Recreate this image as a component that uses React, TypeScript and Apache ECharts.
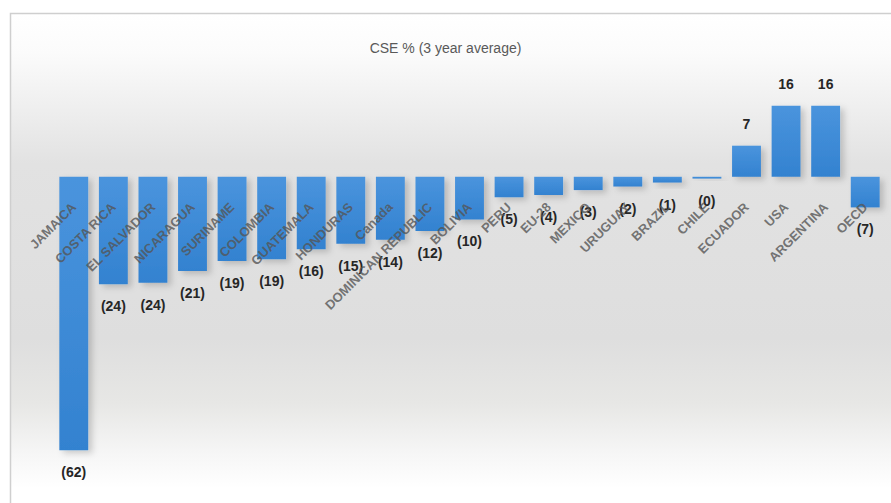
import React, { useEffect, useRef } from "react";
import * as echarts from "echarts";

const TITLE = "CSE % (3 year average)";
const categories = [
  "JAMAICA", "COSTA RICA", "EL SALVADOR", "NICARAGUA", "SURINAME", "COLOMBIA",
  "GUATEMALA", "HONDURAS", "Canada", "DOMINICAN REPUBLIC", "BOLIVIA", "PERU",
  "EU-28", "MEXICO", "URUGUAY", "BRAZIL", "CHILE", "ECUADOR", "USA", "ARGENTINA", "OECD",
];
const values = [
  -61.6, -24.2, -23.9, -21.2, -19.0, -18.6, -16.3, -15.1, -14.2, -12.2, -9.6, -4.6,
  -4.1, -3.0, -2.2, -1.3, -0.4, 7.0, 16.0, 16.0, -6.9,
];

const fmt = (v: number) => {
  const r = Math.round(Math.abs(v));
  return v < 0 ? `(${r})` : `${r}`;
};

export default function App() {
  const ref = useRef<HTMLDivElement>(null);
  useEffect(() => {
    if (!ref.current) return;
    const chart = echarts.init(ref.current, null, { renderer: "svg" });
    chart.setOption({
      animation: false,
      backgroundColor: "#ffffff",
      graphic: [
        {
          type: "rect",
          z: -10,
          silent: true,
          shape: { x: 10.5, y: 13.5, width: 890, height: 500 },
          style: {
            fill: new echarts.graphic.LinearGradient(0, 0, 0, 1, [
              { offset: 0, color: "#ffffff" },
              { offset: 0.08, color: "#fbfbfb" },
              { offset: 0.3, color: "#e2e2e2" },
              { offset: 0.65, color: "#dedede" },
              { offset: 0.78, color: "#e7e7e5" },
              { offset: 0.88, color: "#f6f6f6" },
              { offset: 0.95, color: "#ffffff" },
              { offset: 1, color: "#ffffff" },
            ]),
            stroke: "#cfcfcf",
            lineWidth: 1.5,
          },
        },
      ],
      title: {
        text: TITLE,
        left: "center",
        top: 36,
        textStyle: {
          fontFamily: "'Liberation Sans Narrow', 'Liberation Sans', sans-serif",
          fontSize: 14,
          fontWeight: "normal",
          color: "#595959",
        },
      },
      grid: {
        left: 54,
        right: 6,
        top: 88,
        bottom: 15.5,
        containLabel: false,
        outerBoundsMode: "none",
      },
      xAxis: {
        type: "category",
        data: categories,
        axisLine: { show: false },
        axisTick: { show: false },
        splitLine: { show: false },
        axisLabel: { show: false },
      },
      yAxis: {
        type: "value",
        min: -70,
        max: 20,
        show: false,
        splitLine: { show: false },
      },
      series: [
        {
          type: "bar",
          barCategoryGap: "27%",
          z: 2,
          data: values.map((v) => ({
            value: v,
            label: { position: v < 0 ? "bottom" : "top" },
          })),
          itemStyle: {
            color: new echarts.graphic.LinearGradient(0, 0, 0, 1, [
              { offset: 0, color: "#4a94dd" },
              { offset: 1, color: "#3382d0" },
            ]),
            shadowColor: "rgba(0,0,0,0.18)",
            shadowBlur: 6,
            shadowOffsetX: 4,
            shadowOffsetY: 3,
          },
          label: {
            show: true,
            distance: 15,
            formatter: (p: any) => fmt(p.value),
            fontFamily: "'Liberation Sans', sans-serif",
            fontWeight: "bold",
            fontSize: 14,
            color: "#262626",
          },
        },
        {
          type: "scatter",
          z: 5,
          silent: true,
          symbolSize: 0.1,
          itemStyle: { color: "rgba(0,0,0,0)" },
          data: categories.map(() => 0),
          label: {
            show: true,
            position: "bottom",
            distance: 28,
            rotate: 45,
            align: "right",
            verticalAlign: "middle",
            formatter: (p: any) => p.name,
            fontFamily: "'Liberation Sans', sans-serif",
            fontWeight: "bold",
            fontSize: 13,
            color: "#555555",
          },
        },
      ],
    });
    return () => chart.dispose();
  }, []);
  return (
    <div
      ref={ref}
      style={{ position: "absolute", left: 0, top: 0, width: 891, height: 503 }}
    />
  );
}
